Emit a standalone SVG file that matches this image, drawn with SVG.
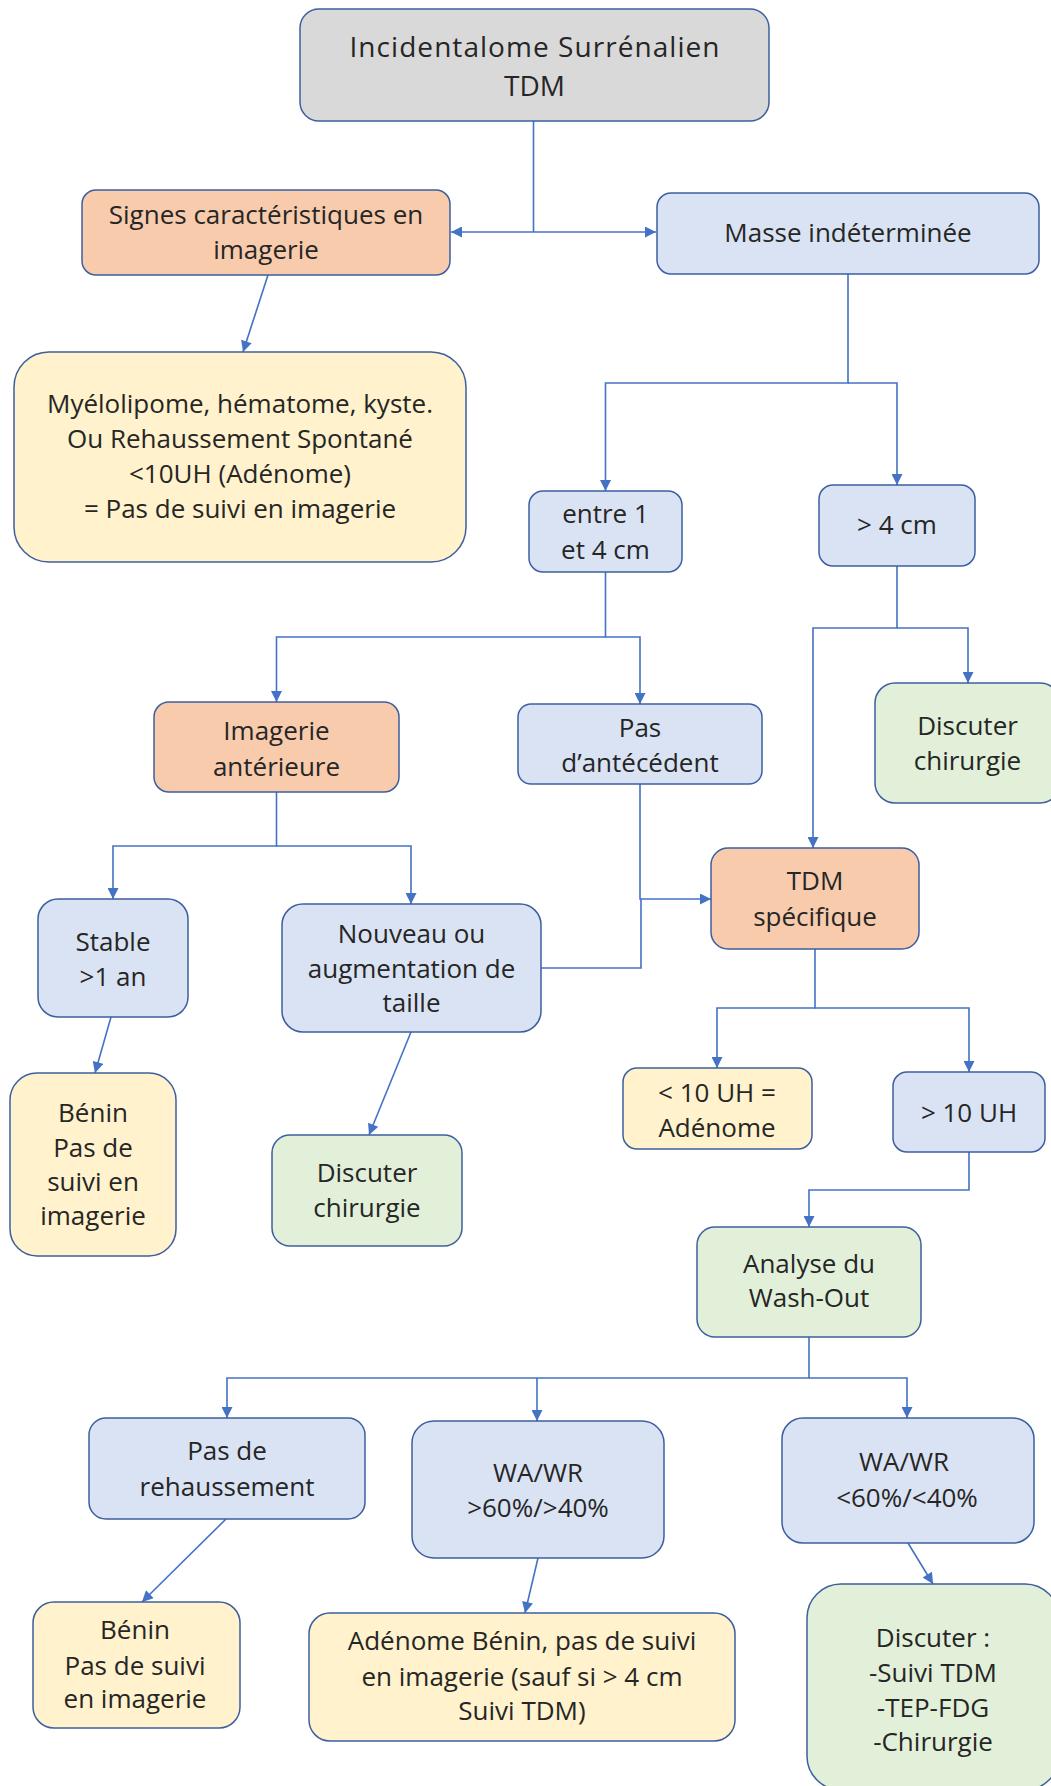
<svg xmlns="http://www.w3.org/2000/svg" width="1051" height="1786" viewBox="0 0 1051 1786">
<style>
.n rect{stroke:#3d5f9f;stroke-width:1.5}
.gray{fill:#d9d9d9}.or{fill:#f8cbad}.bl{fill:#dae3f3}.ye{fill:#fff2cc}.gr{fill:#e2f0d9}
text{font-family:"Open Sans","Noto Sans","DejaVu Sans",sans-serif;font-size:26px;fill:#262626;text-anchor:middle}
.big{font-size:28px}
.c path{fill:none;stroke:#4472c4;stroke-width:1.6}
</style>
<defs>
<marker id="a" viewBox="0 0 10 10" refX="10" refY="5" markerUnits="userSpaceOnUse" markerWidth="12" markerHeight="11" orient="auto">
<path d="M0,0 L10,5 L0,10 z" fill="#4472c4"/>
</marker>
</defs>
<rect width="1051" height="1786" fill="#ffffff"/>
<g class="c">
<path d="M533.5,121 V232"/>
<path d="M533.5,232 H451" marker-end="url(#a)"/>
<path d="M533.5,232 H656" marker-end="url(#a)"/>
<path d="M268,275 L243,352" marker-end="url(#a)"/>
<path d="M848,274 V383 H605.5 V491" marker-end="url(#a)"/>
<path d="M848,383 H897 V485" marker-end="url(#a)"/>
<path d="M605.5,572 V637 H276.5 V702" marker-end="url(#a)"/>
<path d="M605.5,637 H640 V704" marker-end="url(#a)"/>
<path d="M897,566 V628 H813 V848" marker-end="url(#a)"/>
<path d="M897,628 H968 V683" marker-end="url(#a)"/>
<path d="M276.5,792 V846 H113 V899" marker-end="url(#a)"/>
<path d="M276.5,846 H411 V904" marker-end="url(#a)"/>
<path d="M640,784 V899 H711" marker-end="url(#a)"/>
<path d="M541,968 H641 V899"/>
<path d="M111,1017 L95,1073" marker-end="url(#a)"/>
<path d="M411,1032 L369,1135" marker-end="url(#a)"/>
<path d="M815,949 V1008 H717 V1068" marker-end="url(#a)"/>
<path d="M815,1008 H969 V1072" marker-end="url(#a)"/>
<path d="M969,1152 V1190 H809 V1227" marker-end="url(#a)"/>
<path d="M809,1337 V1378 H227 V1418" marker-end="url(#a)"/>
<path d="M537,1378 V1421" marker-end="url(#a)"/>
<path d="M809,1378 H907 V1418" marker-end="url(#a)"/>
<path d="M226,1519 L142,1602" marker-end="url(#a)"/>
<path d="M538,1558 L525,1613" marker-end="url(#a)"/>
<path d="M908,1543 L933,1584" marker-end="url(#a)"/>
</g>
<g class="n" id="n-title"><rect class="gray" x="300" y="9" width="469" height="112" rx="19"/><text class="big" x="534.5" y="57" textLength="370" lengthAdjust="spacing">Incidentalome Surrénalien</text><text class="big" x="534.5" y="96">TDM</text></g>
<g class="n" id="n-signes"><rect class="or" x="82" y="190" width="368" height="85" rx="14"/><text x="266" y="224">Signes caractéristiques en</text><text x="266" y="259">imagerie</text></g>
<g class="n" id="n-masse"><rect class="bl" x="657" y="193" width="382" height="81" rx="14"/><text x="848" y="242">Masse indéterminée</text></g>
<g class="n" id="n-myelo"><rect class="ye" x="14" y="352" width="452" height="210" rx="35"/><text x="240" y="413">Myélolipome, hématome, kyste.</text><text x="240" y="448">Ou  Rehaussement Spontané</text><text x="240" y="483">&lt;10UH (Adénome)</text><text x="240" y="518">= Pas de suivi en imagerie</text></g>
<g class="n" id="n-entre"><rect class="bl" x="529" y="491" width="153" height="81" rx="14"/><text x="605.5" y="523">entre 1</text><text x="605.5" y="559">et 4 cm</text></g>
<g class="n" id="n-gt4"><rect class="bl" x="819" y="485" width="156" height="81" rx="14"/><text x="897" y="534">&gt; 4 cm</text></g>
<g class="n" id="n-imagerie"><rect class="or" x="154" y="702" width="245" height="90" rx="15"/><text x="276.5" y="740">Imagerie</text><text x="276.5" y="776">antérieure</text></g>
<g class="n" id="n-pasant"><rect class="bl" x="518" y="704" width="244" height="80" rx="13"/><text x="640" y="737">Pas</text><text x="640" y="772">d’antécédent</text></g>
<g class="n" id="n-chir1"><rect class="gr" x="875" y="683" width="185" height="120" rx="20"/><text x="967.5" y="735">Discuter</text><text x="967.5" y="770">chirurgie</text></g>
<g class="n" id="n-tdm"><rect class="or" x="711" y="848" width="208" height="101" rx="17"/><text x="815" y="890">TDM</text><text x="815" y="926">spécifique</text></g>
<g class="n" id="n-stable"><rect class="bl" x="38" y="899" width="150" height="118" rx="20"/><text x="113" y="951">Stable</text><text x="113" y="986">&gt;1 an</text></g>
<g class="n" id="n-nouveau"><rect class="bl" x="282" y="904" width="259" height="128" rx="21"/><text x="411.5" y="943">Nouveau ou</text><text x="411.5" y="978">augmentation de</text><text x="411.5" y="1012">taille</text></g>
<g class="n" id="n-lt10"><rect class="ye" x="623" y="1068" width="189" height="81" rx="14"/><text x="717" y="1102">&lt; 10 UH =</text><text x="717" y="1137">Adénome</text></g>
<g class="n" id="n-gt10"><rect class="bl" x="893" y="1072" width="152" height="80" rx="14"/><text x="969" y="1122">&gt; 10 UH</text></g>
<g class="n" id="n-benin1"><rect class="ye" x="10" y="1073" width="166" height="183" rx="27"/><text x="93" y="1122">Bénin</text><text x="93" y="1157">Pas de</text><text x="93" y="1191">suivi en</text><text x="93" y="1225">imagerie</text></g>
<g class="n" id="n-chir2"><rect class="gr" x="272" y="1135" width="190" height="111" rx="18"/><text x="367" y="1182">Discuter</text><text x="367" y="1217">chirurgie</text></g>
<g class="n" id="n-analyse"><rect class="gr" x="697" y="1227" width="224" height="110" rx="18"/><text x="809" y="1273">Analyse du</text><text x="809" y="1307">Wash-Out</text></g>
<g class="n" id="n-pasreh"><rect class="bl" x="89" y="1418" width="276" height="101" rx="17"/><text x="227" y="1460">Pas de</text><text x="227" y="1496">rehaussement</text></g>
<g class="n" id="n-wa1"><rect class="bl" x="412" y="1421" width="252" height="137" rx="22"/><text x="538" y="1482">WA/WR</text><text x="538" y="1517">&gt;60%/&gt;40%</text></g>
<g class="n" id="n-wa2"><rect class="bl" x="782" y="1418" width="252" height="125" rx="21"/><text x="904" y="1471">WA/WR</text><text x="907" y="1507">&lt;60%/&lt;40%</text></g>
<g class="n" id="n-benin2"><rect class="ye" x="33" y="1602" width="207" height="126" rx="21"/><text x="135" y="1639">Bénin</text><text x="135" y="1675">Pas de suivi</text><text x="135" y="1708">en imagerie</text></g>
<g class="n" id="n-adenome"><rect class="ye" x="309" y="1613" width="426" height="128" rx="21"/><text x="522" y="1650">Adénome Bénin, pas de suivi</text><text x="522" y="1686">en imagerie (sauf si &gt; 4 cm</text><text x="522" y="1720">Suivi TDM)</text></g>
<g class="n" id="n-discuter"><rect class="gr" x="807" y="1584" width="252" height="206" rx="34"/><text x="933" y="1647">Discuter :</text><text x="933" y="1682">-Suivi TDM</text><text x="933" y="1717">-TEP-FDG</text><text x="933" y="1751">-Chirurgie</text></g>
</svg>
